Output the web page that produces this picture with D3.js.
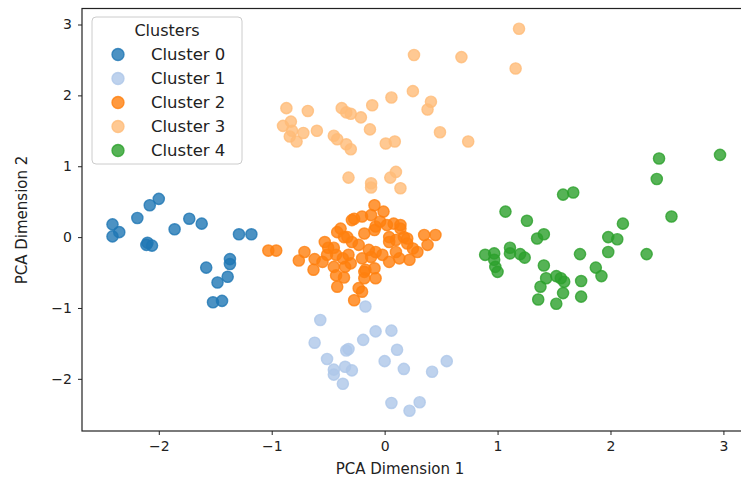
<!DOCTYPE html>
<html>
<head>
<meta charset="utf-8">
<script src="https://cdn.jsdelivr.net/npm/d3@7"></script>
<style>
  body { margin: 0; background: #fff; }
  svg text { font-family: "DejaVu Sans", sans-serif; fill: #222; }
</style>
</head>
<body>
<svg id="chart" width="741" height="480"></svg>
<script>
// cluster names / colours (tab20)
const clusterNames = ['Cluster 0', 'Cluster 1', 'Cluster 2', 'Cluster 3', 'Cluster 4'];
const clusterColors = ['#1f77b4', '#aec7e8', '#ff7f0e', '#ffbb78', '#2ca02c'];

// PCA coordinates
const cluster0 = [[-2.00,0.54],[-2.08,0.45],[-2.19,0.27],[-2.41,0.18],[-2.35,0.07],[-2.41,0.01],
  [-2.10,-0.08],[-2.06,-0.12],[-2.11,-0.11],[-1.86,0.11],[-1.73,0.26],[-1.62,0.19],[-1.29,0.04],
  [-1.18,0.04],[-1.37,-0.31],[-1.37,-0.38],[-1.58,-0.43],[-1.39,-0.56],[-1.48,-0.64],[-1.52,-0.92],[-1.44,-0.90]];
const cluster1 = [[-0.17,-0.98],[-0.57,-1.17],[-0.62,-1.49],[-0.08,-1.33],[0.06,-1.32],[-0.19,-1.45],
  [-0.34,-1.60],[-0.32,-1.58],[0.11,-1.59],[-0.51,-1.72],[0.00,-1.75],[0.17,-1.86],[0.42,-1.90],
  [0.55,-1.75],[-0.45,-1.87],[-0.45,-1.94],[-0.35,-1.83],[-0.29,-1.88],[-0.37,-2.07],[0.06,-2.34],
  [0.31,-2.33],[0.22,-2.45]];
const cluster2 = [[-1.03,-0.19],[-0.96,-0.19],[-0.71,-0.21],[-0.76,-0.33],[-0.62,-0.31],[-0.63,-0.46],
  [-0.53,-0.07],[-0.51,-0.25],[-0.42,0.07],[-0.36,0.00],[-0.29,-0.07],[-0.23,-0.11],[-0.43,-0.25],
  [-0.37,-0.30],[-0.32,-0.25],[-0.45,-0.42],[-0.35,-0.42],[-0.30,-0.37],[-0.43,-0.54],[-0.36,-0.57],
  [-0.42,-0.70],[-0.23,-0.72],[-0.27,-0.89],[-0.20,-0.77],[-0.17,-0.46],[-0.09,-0.44],[-0.08,-0.58],
  [-0.18,-0.58],[-0.29,0.24],[-0.20,0.29],[-0.09,0.45],[-0.01,0.36],[-0.12,0.31],[-0.18,0.05],
  [-0.08,0.15],[-0.04,0.22],[0.02,0.17],[0.08,0.19],[0.14,0.12],[0.04,0.00],[0.10,-0.04],[0.17,0.00],
  [0.20,-0.09],[0.25,-0.16],[0.35,0.03],[0.45,0.03],[0.38,-0.11],[0.29,-0.21],[0.22,-0.32],
  [0.13,-0.30],[0.04,-0.35],[-0.02,-0.25],[-0.08,-0.21],[-0.14,-0.18],[-0.27,0.26],[-0.39,0.12],
  [-0.33,0.00],[0.14,0.17],[0.20,-0.02],[0.04,-0.07],[0.10,-0.21],[-0.12,-0.28],[-0.18,-0.49],
  [-0.09,0.10],[-0.50,-0.15],[-0.55,-0.35],[-0.45,-0.15],[-0.20,-0.30]];
const cluster3 = [[0.26,2.57],[0.68,2.54],[1.19,2.94],[1.16,2.38],[0.25,2.06],[0.06,1.97],[-0.11,1.86],
  [0.41,1.91],[0.38,1.80],[-0.87,1.82],[-0.68,1.78],[-0.38,1.82],[-0.30,1.74],[-0.21,1.69],[-0.34,1.76],
  [-0.90,1.57],[-0.83,1.63],[-0.82,1.50],[-0.84,1.42],[-0.78,1.35],[-0.72,1.47],[-0.60,1.50],
  [-0.45,1.43],[-0.42,1.38],[-0.34,1.31],[-0.30,1.24],[-0.13,1.52],[0.01,1.32],[0.09,1.35],
  [0.49,1.48],[0.74,1.35],[-0.32,0.84],[-0.12,0.76],[-0.12,0.70],[0.05,0.84],[0.10,0.92],[0.14,0.69]];
const cluster4 = [[2.43,1.11],[2.97,1.16],[2.41,0.82],[2.54,0.29],[1.58,0.60],[1.67,0.63],[1.07,0.36],
  [1.26,0.23],[2.11,0.19],[1.41,0.04],[1.35,-0.02],[1.98,0.00],[2.06,-0.03],[1.98,-0.21],[2.32,-0.24],
  [1.73,-0.24],[0.89,-0.25],[0.97,-0.23],[0.97,-0.32],[0.98,-0.42],[1.00,-0.49],[1.11,-0.15],
  [1.11,-0.23],[1.20,-0.24],[1.24,-0.29],[1.41,-0.40],[1.87,-0.43],[1.92,-0.55],[1.43,-0.58],
  [1.52,-0.55],[1.56,-0.58],[1.59,-0.63],[1.38,-0.70],[1.74,-0.62],[1.58,-0.79],[1.74,-0.84],
  [1.36,-0.88],[1.52,-0.94]];
const clusters = [cluster0, cluster1, cluster2, cluster3, cluster4];

const xTicks = [-2, -1, 0, 1, 2, 3];
const yTicks = [-2, -1, 0, 1, 2, 3];

const svg = d3.select('#chart');
const plotLeft = 82, plotRight = 746, plotTop = 8.5, plotBottom = 431;

const x = d3.scaleLinear().domain([-2.68, 3.2]).range([plotLeft, plotRight]);
const y = d3.scaleLinear().domain([-2.736, 3.226]).range([plotBottom, plotTop]);

// points
clusters.forEach((pts, i) => {
  svg.append('g')
    .selectAll('circle')
    .data(pts)
    .join('circle')
    .attr('cx', d => x(d[0]))
    .attr('cy', d => y(d[1]))
    .attr('r', 5.6)
    .attr('fill', clusterColors[i])
    .attr('fill-opacity', 0.8)
    .attr('stroke', clusterColors[i])
    .attr('stroke-opacity', 0.8)
    .attr('stroke-width', 1.4);
});

// axes
const xAxis = svg.append('g')
  .attr('transform', `translate(0,${plotBottom})`)
  .call(d3.axisBottom(x).tickValues(xTicks).tickSize(4).tickPadding(6).tickFormat(d3.format('d')));
const yAxis = svg.append('g')
  .attr('transform', `translate(${plotLeft},0)`)
  .call(d3.axisLeft(y).tickValues(yTicks).tickSize(4).tickPadding(6).tickFormat(d3.format('d')));
[xAxis, yAxis].forEach(a => {
  a.select('.domain').remove();
  a.selectAll('text').style('font-size', '14px').attr('fill', '#222');
  a.selectAll('line').attr('stroke', '#222');
});

// frame
svg.append('rect')
  .attr('x', plotLeft).attr('y', plotTop)
  .attr('width', plotRight - plotLeft).attr('height', plotBottom - plotTop)
  .attr('fill', 'none').attr('stroke', '#222').attr('stroke-width', 1.2);

svg.append('text')
  .attr('x', 400).attr('y', 474)
  .attr('text-anchor', 'middle')
  .style('font-size', '15px')
  .text('PCA Dimension 1');
svg.append('text')
  .attr('transform', 'translate(27,220) rotate(-90)')
  .attr('text-anchor', 'middle')
  .style('font-size', '15px')
  .text('PCA Dimension 2');

// legend
const legend = svg.append('g').attr('transform', 'translate(92,17)');
legend.append('rect')
  .attr('width', 150).attr('height', 147).attr('rx', 4)
  .attr('fill', '#fff').attr('fill-opacity', 0.8)
  .attr('stroke', '#ccc');
legend.append('text')
  .attr('x', 75).attr('y', 19)
  .attr('text-anchor', 'middle')
  .style('font-size', '16px')
  .text('Clusters');
const item = legend.selectAll('g.item')
  .data(clusterNames)
  .join('g')
  .attr('class', 'item')
  .attr('transform', (d, i) => `translate(0,${37.5 + i * 24})`);
item.append('circle')
  .attr('cx', 26).attr('r', 6)
  .attr('fill', (d, i) => clusterColors[i]).attr('fill-opacity', 0.8)
  .attr('stroke', (d, i) => clusterColors[i]).attr('stroke-opacity', 0.8)
  .attr('stroke-width', 1.4);
item.append('text')
  .attr('x', 59).attr('dy', '0.36em')
  .style('font-size', '16.5px')
  .text(d => d);
</script>
</body>
</html>
